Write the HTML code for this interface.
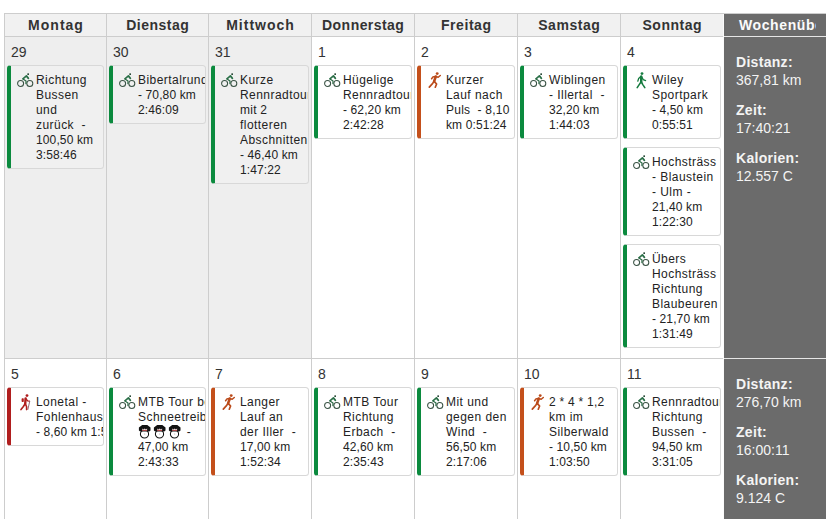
<!DOCTYPE html>
<html><head><meta charset="utf-8"><style>
*{margin:0;padding:0;box-sizing:border-box}
html,body{width:832px;height:519px;overflow:hidden;background:#fff}
body{position:relative;font-family:"Liberation Sans",sans-serif;color:#333}
.a{position:absolute}
.vl{position:absolute;width:1px;background:#cdcdcd}
.hl{position:absolute;height:1px;background:#cdcdcd}
.hd{position:absolute;top:14px;height:22px;line-height:22px;font-weight:bold;font-size:14px;text-align:center;color:#333;background:#f1f1f1;white-space:nowrap}
.dn{position:absolute;font-size:14px;line-height:20px;color:#333}
.card{position:absolute;border:1px solid #d8d8d8;border-left:4px solid #0b8a3e;border-radius:3.5px;overflow:hidden;background:rgba(255,255,255,0.15);padding:7px 0 5px 25px;font-size:12px;line-height:15px;color:#222;white-space:nowrap;letter-spacing:0.3px}
.card .ic{position:absolute}
.card div{height:15px}
.em{display:inline-block;vertical-align:top;margin-top:-1px;margin-left:0px;margin-right:2px}
.sm{position:absolute;left:724px;width:102px;background:#6b6b6b}
.st{position:absolute;left:736px;font-size:14px;line-height:19px;color:#f4f4f4;white-space:nowrap}
.st b{display:block;position:relative;top:1px;letter-spacing:0.3px}
</style></head><body>

<div class="a" style="left:5px;top:14px;width:718px;height:22px;background:#f1f1f1"></div>
<div class="a" style="left:5px;top:37px;width:101px;height:321px;background:#eeeeee"></div>
<div class="a" style="left:107px;top:37px;width:101px;height:321px;background:#eeeeee"></div>
<div class="a" style="left:209px;top:37px;width:102px;height:321px;background:#eeeeee"></div>
<div class="sm" style="top:14px;height:505px"></div>
<div class="a" style="left:723px;top:13px;width:1px;height:506px;background:#fbfbfb"></div>
<div class="a" style="left:724px;top:36px;width:102px;height:1px;background:#e6e6e6"></div>
<div class="a" style="left:724px;top:358px;width:102px;height:1px;background:#e6e6e6"></div>
<div class="hl" style="left:4px;top:13px;width:822px"></div>
<div class="hl" style="left:4px;top:36px;width:719px"></div>
<div class="hl" style="left:4px;top:358px;width:719px"></div>
<div class="vl" style="left:4px;top:13px;height:506px"></div>
<div class="vl" style="left:106px;top:13px;height:506px"></div>
<div class="vl" style="left:208px;top:13px;height:506px"></div>
<div class="vl" style="left:311px;top:13px;height:506px"></div>
<div class="vl" style="left:414px;top:13px;height:506px"></div>
<div class="vl" style="left:517px;top:13px;height:506px"></div>
<div class="vl" style="left:620px;top:13px;height:506px"></div>
<div class="hd" style="left:5px;width:101px;letter-spacing:1.0px;text-indent:1.0px">Montag</div>
<div class="hd" style="left:107px;width:101px;letter-spacing:0.5px;text-indent:0.5px">Dienstag</div>
<div class="hd" style="left:209px;width:102px;letter-spacing:1.0px;text-indent:1.0px">Mittwoch</div>
<div class="hd" style="left:312px;width:102px;letter-spacing:0.45px;text-indent:0.45px">Donnerstag</div>
<div class="hd" style="left:415px;width:102px;letter-spacing:0.55px;text-indent:0.55px">Freitag</div>
<div class="hd" style="left:518px;width:102px;letter-spacing:0.55px;text-indent:0.55px">Samstag</div>
<div class="hd" style="left:621px;width:102px;letter-spacing:0.5px;text-indent:0.5px">Sonntag</div>
<div class="a" style="left:734px;top:14px;width:82px;height:22px;overflow:hidden;line-height:22px;font-weight:bold;font-size:14px;color:#fbfbfb;white-space:nowrap"><span style="padding-left:5px;letter-spacing:0.6px">Wochenübersicht</span></div>
<div class="dn" style="left:11px;top:42px">29</div>
<div class="dn" style="left:113px;top:42px">30</div>
<div class="dn" style="left:215px;top:42px">31</div>
<div class="dn" style="left:318px;top:42px">1</div>
<div class="dn" style="left:421px;top:42px">2</div>
<div class="dn" style="left:524px;top:42px">3</div>
<div class="dn" style="left:627px;top:42px">4</div>
<div class="dn" style="left:11px;top:364px">5</div>
<div class="dn" style="left:113px;top:364px">6</div>
<div class="dn" style="left:215px;top:364px">7</div>
<div class="dn" style="left:318px;top:364px">8</div>
<div class="dn" style="left:421px;top:364px">9</div>
<div class="dn" style="left:524px;top:364px">10</div>
<div class="dn" style="left:627px;top:364px">11</div>
<div class="card" style="left:7px;top:65px;width:97px;height:104px;border-left-color:#0b8a3e"><svg class="ic" style="left:6px;top:7px" width="17" height="15" viewBox="0 0 17 15">
<circle cx="3.6" cy="10.5" r="3.0" fill="none" stroke="#3a5345" stroke-width="1.05"/>
<circle cx="12.8" cy="10.5" r="3.0" fill="none" stroke="#3a5345" stroke-width="1.05"/>
<rect x="10.3" y="0.3" width="1.7" height="1.7" rx="0.5" fill="#2a4a38"/>
<path d="M5.9 5.8 L9.4 2.9 L11.4 5.4" fill="none" stroke="#2b7048" stroke-width="1.7" stroke-linejoin="round" stroke-linecap="round"/>
<path d="M6.4 6.2 L9.0 8.0 L8.9 10.6" fill="none" stroke="#2b6a45" stroke-width="1.2" stroke-linecap="round" stroke-linejoin="round"/>
</svg><div style="letter-spacing:0.45px">Richtung</div><div style="letter-spacing:0.45px">Bussen</div><div style="letter-spacing:0.45px">und</div><div style="letter-spacing:0.45px">zurück&nbsp; -</div><div style="letter-spacing:0.12px">100,50 km</div><div style="letter-spacing:0.12px">3:58:46</div></div>
<div class="card" style="left:109px;top:65px;width:97px;height:59px;border-left-color:#0b8a3e"><svg class="ic" style="left:6px;top:7px" width="17" height="15" viewBox="0 0 17 15">
<circle cx="3.6" cy="10.5" r="3.0" fill="none" stroke="#3a5345" stroke-width="1.05"/>
<circle cx="12.8" cy="10.5" r="3.0" fill="none" stroke="#3a5345" stroke-width="1.05"/>
<rect x="10.3" y="0.3" width="1.7" height="1.7" rx="0.5" fill="#2a4a38"/>
<path d="M5.9 5.8 L9.4 2.9 L11.4 5.4" fill="none" stroke="#2b7048" stroke-width="1.7" stroke-linejoin="round" stroke-linecap="round"/>
<path d="M6.4 6.2 L9.0 8.0 L8.9 10.6" fill="none" stroke="#2b6a45" stroke-width="1.2" stroke-linecap="round" stroke-linejoin="round"/>
</svg><div style="letter-spacing:0.45px">Bibertalrunde</div><div style="letter-spacing:0.12px">- 70,80 km</div><div style="letter-spacing:0.12px">2:46:09</div></div>
<div class="card" style="left:211px;top:65px;width:98px;height:119px;border-left-color:#0b8a3e"><svg class="ic" style="left:6px;top:7px" width="17" height="15" viewBox="0 0 17 15">
<circle cx="3.6" cy="10.5" r="3.0" fill="none" stroke="#3a5345" stroke-width="1.05"/>
<circle cx="12.8" cy="10.5" r="3.0" fill="none" stroke="#3a5345" stroke-width="1.05"/>
<rect x="10.3" y="0.3" width="1.7" height="1.7" rx="0.5" fill="#2a4a38"/>
<path d="M5.9 5.8 L9.4 2.9 L11.4 5.4" fill="none" stroke="#2b7048" stroke-width="1.7" stroke-linejoin="round" stroke-linecap="round"/>
<path d="M6.4 6.2 L9.0 8.0 L8.9 10.6" fill="none" stroke="#2b6a45" stroke-width="1.2" stroke-linecap="round" stroke-linejoin="round"/>
</svg><div style="letter-spacing:0.45px">Kurze</div><div style="letter-spacing:0.45px">Rennradtour</div><div style="letter-spacing:0.25px">mit 2</div><div style="letter-spacing:0.45px">flotteren</div><div style="letter-spacing:0.45px">Abschnitten</div><div style="letter-spacing:0.12px">- 46,40 km</div><div style="letter-spacing:0.12px">1:47:22</div></div>
<div class="card" style="left:314px;top:65px;width:98px;height:74px;border-left-color:#0b8a3e"><svg class="ic" style="left:6px;top:7px" width="17" height="15" viewBox="0 0 17 15">
<circle cx="3.6" cy="10.5" r="3.0" fill="none" stroke="#3a5345" stroke-width="1.05"/>
<circle cx="12.8" cy="10.5" r="3.0" fill="none" stroke="#3a5345" stroke-width="1.05"/>
<rect x="10.3" y="0.3" width="1.7" height="1.7" rx="0.5" fill="#2a4a38"/>
<path d="M5.9 5.8 L9.4 2.9 L11.4 5.4" fill="none" stroke="#2b7048" stroke-width="1.7" stroke-linejoin="round" stroke-linecap="round"/>
<path d="M6.4 6.2 L9.0 8.0 L8.9 10.6" fill="none" stroke="#2b6a45" stroke-width="1.2" stroke-linecap="round" stroke-linejoin="round"/>
</svg><div style="letter-spacing:0.45px">Hügelige</div><div style="letter-spacing:0.45px">Rennradtour</div><div style="letter-spacing:0.12px">- 62,20 km</div><div style="letter-spacing:0.12px">2:42:28</div></div>
<div class="card" style="left:417px;top:65px;width:98px;height:74px;border-left-color:#c4501b"><svg class="ic" style="left:7px;top:6px" width="14" height="17" viewBox="0 0 14 17">
<circle cx="9.2" cy="1.6" r="1.45" fill="#bb4b1b"/>
<path d="M7.8 4.5 L6.1 9.4" stroke="#bb4b1b" stroke-width="2.6" stroke-linecap="round" fill="none"/>
<path d="M7.8 4.5 L10.2 5.3 L12.3 3.5" stroke="#bb4b1b" stroke-width="1.5" stroke-linecap="round" stroke-linejoin="round" fill="none"/>
<path d="M7.2 4.5 L4.8 5.1 L3.6 6.8" stroke="#bb4b1b" stroke-width="1.5" stroke-linecap="round" stroke-linejoin="round" fill="none"/>
<path d="M6.0 9.6 L4.0 12.2 L1.3 15.1" stroke="#bb4b1b" stroke-width="1.7" stroke-linecap="round" stroke-linejoin="round" fill="none"/>
<path d="M6.4 9.6 L8.6 12.0 L7.3 15.2" stroke="#bb4b1b" stroke-width="1.7" stroke-linecap="round" stroke-linejoin="round" fill="none"/>
</svg><div style="letter-spacing:0.45px">Kurzer</div><div style="letter-spacing:0.45px">Lauf nach</div><div style="letter-spacing:0.25px">Puls&nbsp; - 8,10</div><div style="letter-spacing:0.12px">km 0:51:24</div></div>
<div class="card" style="left:520px;top:65px;width:98px;height:74px;border-left-color:#0b8a3e"><svg class="ic" style="left:6px;top:7px" width="17" height="15" viewBox="0 0 17 15">
<circle cx="3.6" cy="10.5" r="3.0" fill="none" stroke="#3a5345" stroke-width="1.05"/>
<circle cx="12.8" cy="10.5" r="3.0" fill="none" stroke="#3a5345" stroke-width="1.05"/>
<rect x="10.3" y="0.3" width="1.7" height="1.7" rx="0.5" fill="#2a4a38"/>
<path d="M5.9 5.8 L9.4 2.9 L11.4 5.4" fill="none" stroke="#2b7048" stroke-width="1.7" stroke-linejoin="round" stroke-linecap="round"/>
<path d="M6.4 6.2 L9.0 8.0 L8.9 10.6" fill="none" stroke="#2b6a45" stroke-width="1.2" stroke-linecap="round" stroke-linejoin="round"/>
</svg><div style="letter-spacing:0.45px">Wiblingen</div><div style="letter-spacing:0.45px">- Illertal&nbsp; -</div><div style="letter-spacing:0.12px">32,20 km</div><div style="letter-spacing:0.12px">1:44:03</div></div>
<div class="card" style="left:623px;top:65px;width:98px;height:74px;border-left-color:#0b8a3e"><svg class="ic" style="left:9px;top:6px" width="11" height="17" viewBox="0 0 11 17">
<circle cx="6.0" cy="1.6" r="1.4" fill="#177c40"/>
<path d="M5.2 4.4 L5.2 10.0" stroke="#177c40" stroke-width="2.4" stroke-linecap="round" fill="none"/>
<path d="M4.6 4.8 L2.6 6.6 L1.8 9.2" stroke="#177c40" stroke-width="1.3" stroke-linecap="round" stroke-linejoin="round" fill="none"/>
<path d="M5.8 5.0 L7.2 7.6 L9.6 8.6" stroke="#177c40" stroke-width="1.3" stroke-linecap="round" stroke-linejoin="round" fill="none"/>
<path d="M5.0 10.0 L3.2 12.6 L1.2 15.6" stroke="#177c40" stroke-width="1.6" stroke-linecap="round" stroke-linejoin="round" fill="none"/>
<path d="M5.4 10.0 L6.8 12.6 L8.8 15.6" stroke="#177c40" stroke-width="1.6" stroke-linecap="round" stroke-linejoin="round" fill="none"/>
</svg><div style="letter-spacing:0.45px">Wiley</div><div style="letter-spacing:0.45px">Sportpark</div><div style="letter-spacing:0.12px">- 4,50 km</div><div style="letter-spacing:0.12px">0:55:51</div></div>
<div class="card" style="left:623px;top:147px;width:98px;height:89px;border-left-color:#0b8a3e"><svg class="ic" style="left:6px;top:7px" width="17" height="15" viewBox="0 0 17 15">
<circle cx="3.6" cy="10.5" r="3.0" fill="none" stroke="#3a5345" stroke-width="1.05"/>
<circle cx="12.8" cy="10.5" r="3.0" fill="none" stroke="#3a5345" stroke-width="1.05"/>
<rect x="10.3" y="0.3" width="1.7" height="1.7" rx="0.5" fill="#2a4a38"/>
<path d="M5.9 5.8 L9.4 2.9 L11.4 5.4" fill="none" stroke="#2b7048" stroke-width="1.7" stroke-linejoin="round" stroke-linecap="round"/>
<path d="M6.4 6.2 L9.0 8.0 L8.9 10.6" fill="none" stroke="#2b6a45" stroke-width="1.2" stroke-linecap="round" stroke-linejoin="round"/>
</svg><div style="letter-spacing:0.45px">Hochsträss</div><div style="letter-spacing:0.45px">- Blaustein</div><div style="letter-spacing:0.45px">- Ulm -</div><div style="letter-spacing:0.12px">21,40 km</div><div style="letter-spacing:0.12px">1:22:30</div></div>
<div class="card" style="left:623px;top:244px;width:98px;height:104px;border-left-color:#0b8a3e"><svg class="ic" style="left:6px;top:7px" width="17" height="15" viewBox="0 0 17 15">
<circle cx="3.6" cy="10.5" r="3.0" fill="none" stroke="#3a5345" stroke-width="1.05"/>
<circle cx="12.8" cy="10.5" r="3.0" fill="none" stroke="#3a5345" stroke-width="1.05"/>
<rect x="10.3" y="0.3" width="1.7" height="1.7" rx="0.5" fill="#2a4a38"/>
<path d="M5.9 5.8 L9.4 2.9 L11.4 5.4" fill="none" stroke="#2b7048" stroke-width="1.7" stroke-linejoin="round" stroke-linecap="round"/>
<path d="M6.4 6.2 L9.0 8.0 L8.9 10.6" fill="none" stroke="#2b6a45" stroke-width="1.2" stroke-linecap="round" stroke-linejoin="round"/>
</svg><div style="letter-spacing:0.45px">Übers</div><div style="letter-spacing:0.45px">Hochsträss</div><div style="letter-spacing:0.45px">Richtung</div><div style="letter-spacing:0.45px">Blaubeuren</div><div style="letter-spacing:0.12px">- 21,70 km</div><div style="letter-spacing:0.12px">1:31:49</div></div>
<div class="card" style="left:7px;top:387px;width:97px;height:59px;border-left-color:#b01e1e"><svg class="ic" style="left:9px;top:6px" width="12" height="17" viewBox="0 0 12 17">
<circle cx="7.0" cy="1.6" r="1.4" fill="#b01e1e"/>
<rect x="1.6" y="4.2" width="2.2" height="3.8" rx="0.8" fill="#b01e1e"/>
<path d="M5.6 4.4 L5.2 10.0" stroke="#b01e1e" stroke-width="2.4" stroke-linecap="round" fill="none"/>
<path d="M6.0 5.0 L7.6 6.8 L9.4 7.2" stroke="#b01e1e" stroke-width="1.3" stroke-linecap="round" stroke-linejoin="round" fill="none"/>
<path d="M9.8 7.0 L7.8 15.8" stroke="#8a5a6a" stroke-width="0.9" fill="none"/>
<path d="M5.0 10.0 L3.2 12.8 L1.0 15.6" stroke="#b01e1e" stroke-width="1.6" stroke-linecap="round" stroke-linejoin="round" fill="none"/>
<path d="M5.4 10.0 L6.6 12.8 L6.6 15.6" stroke="#b01e1e" stroke-width="1.6" stroke-linecap="round" stroke-linejoin="round" fill="none"/>
</svg><div style="letter-spacing:0.45px">Lonetal -</div><div style="letter-spacing:0.45px">Fohlenhausen</div><div style="letter-spacing:0.12px">- 8,60 km 1:54:12</div></div>
<div class="card" style="left:109px;top:387px;width:97px;height:89px;border-left-color:#0b8a3e"><svg class="ic" style="left:6px;top:7px" width="17" height="15" viewBox="0 0 17 15">
<circle cx="3.6" cy="10.5" r="3.0" fill="none" stroke="#3a5345" stroke-width="1.05"/>
<circle cx="12.8" cy="10.5" r="3.0" fill="none" stroke="#3a5345" stroke-width="1.05"/>
<rect x="10.3" y="0.3" width="1.7" height="1.7" rx="0.5" fill="#2a4a38"/>
<path d="M5.9 5.8 L9.4 2.9 L11.4 5.4" fill="none" stroke="#2b7048" stroke-width="1.7" stroke-linejoin="round" stroke-linecap="round"/>
<path d="M6.4 6.2 L9.0 8.0 L8.9 10.6" fill="none" stroke="#2b6a45" stroke-width="1.2" stroke-linecap="round" stroke-linejoin="round"/>
</svg><div style="letter-spacing:0.45px">MTB Tour bei</div><div style="letter-spacing:0.45px">Schneetreiben</div><div><svg class="em" width="13" height="15" viewBox="0 0 13 15">
<ellipse cx="6.5" cy="10.0" rx="4.1" ry="3.9" fill="#fff" stroke="#111" stroke-width="1.05"/>
<path d="M4.2 0.9 L9.3 0.9 L12.5 3.4 L12.5 6.6 L11.2 7.4 L2.2 7.4 L0.9 6.6 L0.9 3.4 Z" fill="#121212"/>
<path d="M4.3 4.4 L5.5 5.6 L6.7 4.6 L7.9 5.6 L9.1 4.4 L9.1 6.6 L4.3 6.6 Z" fill="#f3e6e6"/>
<path d="M4.3 6.4 L9.1 6.4" stroke="#b83a3a" stroke-width="0.9"/>
<path d="M6.7 9.2 L6.7 11" stroke="#bbb" stroke-width="0.6"/>
</svg><svg class="em" width="13" height="15" viewBox="0 0 13 15">
<ellipse cx="6.5" cy="10.0" rx="4.1" ry="3.9" fill="#fff" stroke="#111" stroke-width="1.05"/>
<path d="M4.2 0.9 L9.3 0.9 L12.5 3.4 L12.5 6.6 L11.2 7.4 L2.2 7.4 L0.9 6.6 L0.9 3.4 Z" fill="#121212"/>
<path d="M4.3 4.4 L5.5 5.6 L6.7 4.6 L7.9 5.6 L9.1 4.4 L9.1 6.6 L4.3 6.6 Z" fill="#f3e6e6"/>
<path d="M4.3 6.4 L9.1 6.4" stroke="#b83a3a" stroke-width="0.9"/>
<path d="M6.7 9.2 L6.7 11" stroke="#bbb" stroke-width="0.6"/>
</svg><svg class="em" width="13" height="15" viewBox="0 0 13 15">
<ellipse cx="6.5" cy="10.0" rx="4.1" ry="3.9" fill="#fff" stroke="#111" stroke-width="1.05"/>
<path d="M4.2 0.9 L9.3 0.9 L12.5 3.4 L12.5 6.6 L11.2 7.4 L2.2 7.4 L0.9 6.6 L0.9 3.4 Z" fill="#121212"/>
<path d="M4.3 4.4 L5.5 5.6 L6.7 4.6 L7.9 5.6 L9.1 4.4 L9.1 6.6 L4.3 6.6 Z" fill="#f3e6e6"/>
<path d="M4.3 6.4 L9.1 6.4" stroke="#b83a3a" stroke-width="0.9"/>
<path d="M6.7 9.2 L6.7 11" stroke="#bbb" stroke-width="0.6"/>
</svg> -</div><div style="letter-spacing:0.12px">47,00 km</div><div style="letter-spacing:0.12px">2:43:33</div></div>
<div class="card" style="left:211px;top:387px;width:98px;height:89px;border-left-color:#c4501b"><svg class="ic" style="left:7px;top:6px" width="14" height="17" viewBox="0 0 14 17">
<circle cx="9.2" cy="1.6" r="1.45" fill="#bb4b1b"/>
<path d="M7.8 4.5 L6.1 9.4" stroke="#bb4b1b" stroke-width="2.6" stroke-linecap="round" fill="none"/>
<path d="M7.8 4.5 L10.2 5.3 L12.3 3.5" stroke="#bb4b1b" stroke-width="1.5" stroke-linecap="round" stroke-linejoin="round" fill="none"/>
<path d="M7.2 4.5 L4.8 5.1 L3.6 6.8" stroke="#bb4b1b" stroke-width="1.5" stroke-linecap="round" stroke-linejoin="round" fill="none"/>
<path d="M6.0 9.6 L4.0 12.2 L1.3 15.1" stroke="#bb4b1b" stroke-width="1.7" stroke-linecap="round" stroke-linejoin="round" fill="none"/>
<path d="M6.4 9.6 L8.6 12.0 L7.3 15.2" stroke="#bb4b1b" stroke-width="1.7" stroke-linecap="round" stroke-linejoin="round" fill="none"/>
</svg><div style="letter-spacing:0.45px">Langer</div><div style="letter-spacing:0.45px">Lauf an</div><div style="letter-spacing:0.45px">der Iller&nbsp; -</div><div style="letter-spacing:0.12px">17,00 km</div><div style="letter-spacing:0.12px">1:52:34</div></div>
<div class="card" style="left:314px;top:387px;width:98px;height:89px;border-left-color:#0b8a3e"><svg class="ic" style="left:6px;top:7px" width="17" height="15" viewBox="0 0 17 15">
<circle cx="3.6" cy="10.5" r="3.0" fill="none" stroke="#3a5345" stroke-width="1.05"/>
<circle cx="12.8" cy="10.5" r="3.0" fill="none" stroke="#3a5345" stroke-width="1.05"/>
<rect x="10.3" y="0.3" width="1.7" height="1.7" rx="0.5" fill="#2a4a38"/>
<path d="M5.9 5.8 L9.4 2.9 L11.4 5.4" fill="none" stroke="#2b7048" stroke-width="1.7" stroke-linejoin="round" stroke-linecap="round"/>
<path d="M6.4 6.2 L9.0 8.0 L8.9 10.6" fill="none" stroke="#2b6a45" stroke-width="1.2" stroke-linecap="round" stroke-linejoin="round"/>
</svg><div style="letter-spacing:0.45px">MTB Tour</div><div style="letter-spacing:0.45px">Richtung</div><div style="letter-spacing:0.45px">Erbach&nbsp; -</div><div style="letter-spacing:0.12px">42,60 km</div><div style="letter-spacing:0.12px">2:35:43</div></div>
<div class="card" style="left:417px;top:387px;width:98px;height:89px;border-left-color:#0b8a3e"><svg class="ic" style="left:6px;top:7px" width="17" height="15" viewBox="0 0 17 15">
<circle cx="3.6" cy="10.5" r="3.0" fill="none" stroke="#3a5345" stroke-width="1.05"/>
<circle cx="12.8" cy="10.5" r="3.0" fill="none" stroke="#3a5345" stroke-width="1.05"/>
<rect x="10.3" y="0.3" width="1.7" height="1.7" rx="0.5" fill="#2a4a38"/>
<path d="M5.9 5.8 L9.4 2.9 L11.4 5.4" fill="none" stroke="#2b7048" stroke-width="1.7" stroke-linejoin="round" stroke-linecap="round"/>
<path d="M6.4 6.2 L9.0 8.0 L8.9 10.6" fill="none" stroke="#2b6a45" stroke-width="1.2" stroke-linecap="round" stroke-linejoin="round"/>
</svg><div style="letter-spacing:0.45px">Mit und</div><div style="letter-spacing:0.45px">gegen den</div><div style="letter-spacing:0.45px">Wind&nbsp; -</div><div style="letter-spacing:0.12px">56,50 km</div><div style="letter-spacing:0.12px">2:17:06</div></div>
<div class="card" style="left:520px;top:387px;width:98px;height:89px;border-left-color:#c4501b"><svg class="ic" style="left:7px;top:6px" width="14" height="17" viewBox="0 0 14 17">
<circle cx="9.2" cy="1.6" r="1.45" fill="#bb4b1b"/>
<path d="M7.8 4.5 L6.1 9.4" stroke="#bb4b1b" stroke-width="2.6" stroke-linecap="round" fill="none"/>
<path d="M7.8 4.5 L10.2 5.3 L12.3 3.5" stroke="#bb4b1b" stroke-width="1.5" stroke-linecap="round" stroke-linejoin="round" fill="none"/>
<path d="M7.2 4.5 L4.8 5.1 L3.6 6.8" stroke="#bb4b1b" stroke-width="1.5" stroke-linecap="round" stroke-linejoin="round" fill="none"/>
<path d="M6.0 9.6 L4.0 12.2 L1.3 15.1" stroke="#bb4b1b" stroke-width="1.7" stroke-linecap="round" stroke-linejoin="round" fill="none"/>
<path d="M6.4 9.6 L8.6 12.0 L7.3 15.2" stroke="#bb4b1b" stroke-width="1.7" stroke-linecap="round" stroke-linejoin="round" fill="none"/>
</svg><div style="letter-spacing:0.25px">2 * 4 * 1,2</div><div style="letter-spacing:0.45px">km im</div><div style="letter-spacing:0.45px">Silberwald</div><div style="letter-spacing:0.12px">- 10,50 km</div><div style="letter-spacing:0.12px">1:03:50</div></div>
<div class="card" style="left:623px;top:387px;width:98px;height:89px;border-left-color:#0b8a3e"><svg class="ic" style="left:6px;top:7px" width="17" height="15" viewBox="0 0 17 15">
<circle cx="3.6" cy="10.5" r="3.0" fill="none" stroke="#3a5345" stroke-width="1.05"/>
<circle cx="12.8" cy="10.5" r="3.0" fill="none" stroke="#3a5345" stroke-width="1.05"/>
<rect x="10.3" y="0.3" width="1.7" height="1.7" rx="0.5" fill="#2a4a38"/>
<path d="M5.9 5.8 L9.4 2.9 L11.4 5.4" fill="none" stroke="#2b7048" stroke-width="1.7" stroke-linejoin="round" stroke-linecap="round"/>
<path d="M6.4 6.2 L9.0 8.0 L8.9 10.6" fill="none" stroke="#2b6a45" stroke-width="1.2" stroke-linecap="round" stroke-linejoin="round"/>
</svg><div style="letter-spacing:0.45px">Rennradtour</div><div style="letter-spacing:0.45px">Richtung</div><div style="letter-spacing:0.45px">Bussen&nbsp; -</div><div style="letter-spacing:0.12px">94,50 km</div><div style="letter-spacing:0.12px">3:31:05</div></div>
<div class="st" style="top:52px"><b>Distanz:</b>367,81 km</div>
<div class="st" style="top:100px"><b>Zeit:</b>17:40:21</div>
<div class="st" style="top:148px"><b>Kalorien:</b>12.557 C</div>
<div class="st" style="top:374px"><b>Distanz:</b>276,70 km</div>
<div class="st" style="top:422px"><b>Zeit:</b>16:00:11</div>
<div class="st" style="top:470px"><b>Kalorien:</b>9.124 C</div>
</body></html>
